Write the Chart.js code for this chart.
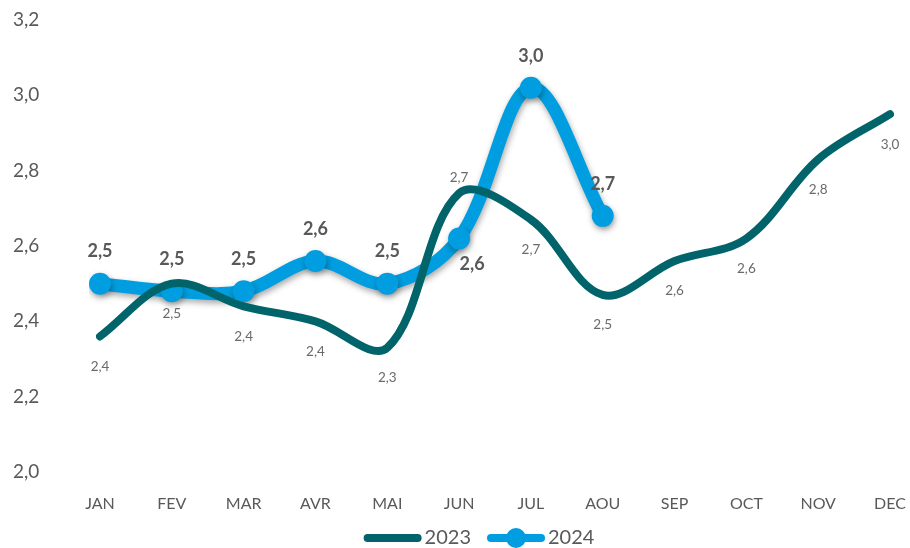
<!DOCTYPE html>
<html>
<head>
<meta charset="utf-8">
<script src="https://cdn.jsdelivr.net/npm/chart.js@4/dist/chart.umd.min.js"></script>
<style>
  html, body { margin:0; padding:0; background:#fff; }
  #wrap { width:910px; height:548px; position:relative; }
</style>
</head>
<body>
<div id="wrap"><canvas id="lineChart" width="910" height="548"></canvas></div>
<script>
// data
const months = ['JAN','FEV','MAR','AVR','MAI','JUN','JUL','AOU','SEP','OCT','NOV','DEC'];
const values2023 = [2.36, 2.50, 2.44, 2.40, 2.33, 2.74, 2.67, 2.47, 2.56, 2.62, 2.83, 2.95];
const values2024 = [2.50, 2.48, 2.48, 2.56, 2.50, 2.62, 3.02, 2.68];
const yTicks = [2.0, 2.2, 2.4, 2.6, 2.8, 3.0, 3.2];

const TEAL = '#00646a';
const BLUE = '#009ee0';
const GREY = '#595959';

// where each value label sits relative to its point
const labelSide2023 = ['below','below','below','below','below','above','below','below','below','below','below','below'];
const labelSide2024 = ['above','above','above','above','above','belowRight','above','above'];

function fmt(v){ return v.toFixed(1).replace('.', ','); }

const shadowPlugin = {
  id: 'shadow',
  beforeDatasetDraw(chart, args){
    if(args.index !== 1) return;
    const ctx = chart.ctx;
    ctx.save();
    ctx.shadowColor = 'rgba(0,0,0,0.35)';
    ctx.shadowBlur = 6;
    ctx.shadowOffsetX = 1;
    ctx.shadowOffsetY = 3;
  },
  afterDatasetDraw(chart, args){
    if(args.index !== 1) return;
    chart.ctx.restore();
  }
};

const labelPlugin = {
  id: 'valueLabels',
  afterDatasetsDraw(chart){
    const ctx = chart.ctx;
    ctx.save();
    ctx.textAlign = 'center';
    ctx.textBaseline = 'middle';
    // 2023: small regular
    chart.getDatasetMeta(0).data.forEach((pt, i) => {
      const side = labelSide2023[i];
      const dy = side === 'above' ? -16 : 30;
      ctx.font = '13.5px Lato, "Open Sans", sans-serif';
      ctx.fillStyle = '#6a6a6a';
      ctx.fillText(fmt(values2023[i]), pt.x, pt.y + dy);
    });
    // 2024: bold
    chart.getDatasetMeta(1).data.forEach((pt, i) => {
      const side = labelSide2024[i];
      let dx = 0, dy = -32;
      if(side === 'belowRight'){ dx = 13; dy = 26; }
      ctx.font = 'bold 18px Lato, "Open Sans", sans-serif';
      ctx.fillStyle = GREY;
      ctx.fillText(fmt(values2024[i]), pt.x + dx, pt.y + dy);
    });
    ctx.restore();
  }
};

const legendPlugin = {
  id: 'bottomLegend',
  afterDraw(chart){
    const ctx = chart.ctx;
    const area = chart.chartArea;
    ctx.save();
    ctx.font = '20px Lato, "Open Sans", sans-serif';
    ctx.textBaseline = 'middle';
    const lineW = 58, gap = 3, between = 16;
    const items = chart.data.datasets.map(ds => ({ ds, tw: ctx.measureText(ds.label).width }));
    const total = items.reduce((s, it) => s + lineW + gap + it.tw, 0) + between * (items.length - 1);
    let x = (area.left + area.right) / 2 - 16 - total / 2;
    const y = 538;
    items.forEach((it, i) => {
      ctx.strokeStyle = it.ds.borderColor;
      ctx.lineWidth = 8;
      ctx.lineCap = 'round';
      ctx.beginPath();
      ctx.moveTo(x + 4, y);
      ctx.lineTo(x + lineW - 4, y);
      ctx.stroke();
      if(i === 1){
        ctx.fillStyle = it.ds.borderColor;
        ctx.beginPath();
        ctx.arc(x + lineW / 2, y, 10, 0, Math.PI * 2);
        ctx.fill();
      }
      ctx.fillStyle = GREY;
      ctx.fillText(it.ds.label, x + lineW + gap, y);
      x += lineW + gap + it.tw + between;
    });
    ctx.restore();
  }
};

const ctx = document.getElementById('lineChart').getContext('2d');
new Chart(ctx, {
  type: 'line',
  data: {
    labels: months,
    datasets: [
      { label:'2023', data: values2023, borderColor: TEAL, backgroundColor: TEAL, borderWidth: 8,
        pointRadius: 0, tension: 0.35, borderCapStyle: 'round', fill: false },
      { label:'2024', data: values2024, borderColor: BLUE, backgroundColor: BLUE, borderWidth: 13,
        pointRadius: 11, pointBorderWidth: 0, pointHoverRadius: 11, tension: 0.35, borderCapStyle: 'round', fill: false }
    ]
  },
  options: {
    responsive: false,
    animation: false,
    layout: { padding: { top: 20, right: 20, bottom: 26, left: 13 } },
    plugins: { legend: { display:false }, tooltip: { enabled:false } },
    scales: {
      x: {
        offset: false,
        grid: { display:false },
        border: { display:false },
        ticks: { color: GREY, padding: 14, maxRotation: 0, font: { family: 'Lato, sans-serif', size: 16 } },
        afterFit: s => { s.height = 50; s.paddingLeft = 0; s.paddingRight = 0; }
      },
      y: {
        min: 2.0, max: 3.2,
        afterBuildTicks: s => { s.ticks = yTicks.map(v => ({ value: v })); },
        grid: { display:false },
        border: { display:false },
        ticks: { color: GREY, padding: 4, crossAlign: 'far', font: { family: 'Lato, "Open Sans", sans-serif', size: 19 },
                 callback: v => fmt(v) },
        afterFit: s => { s.width = 87; }
      }
    }
  },
  plugins: [shadowPlugin, labelPlugin, legendPlugin]
});
</script>
</body>
</html>
